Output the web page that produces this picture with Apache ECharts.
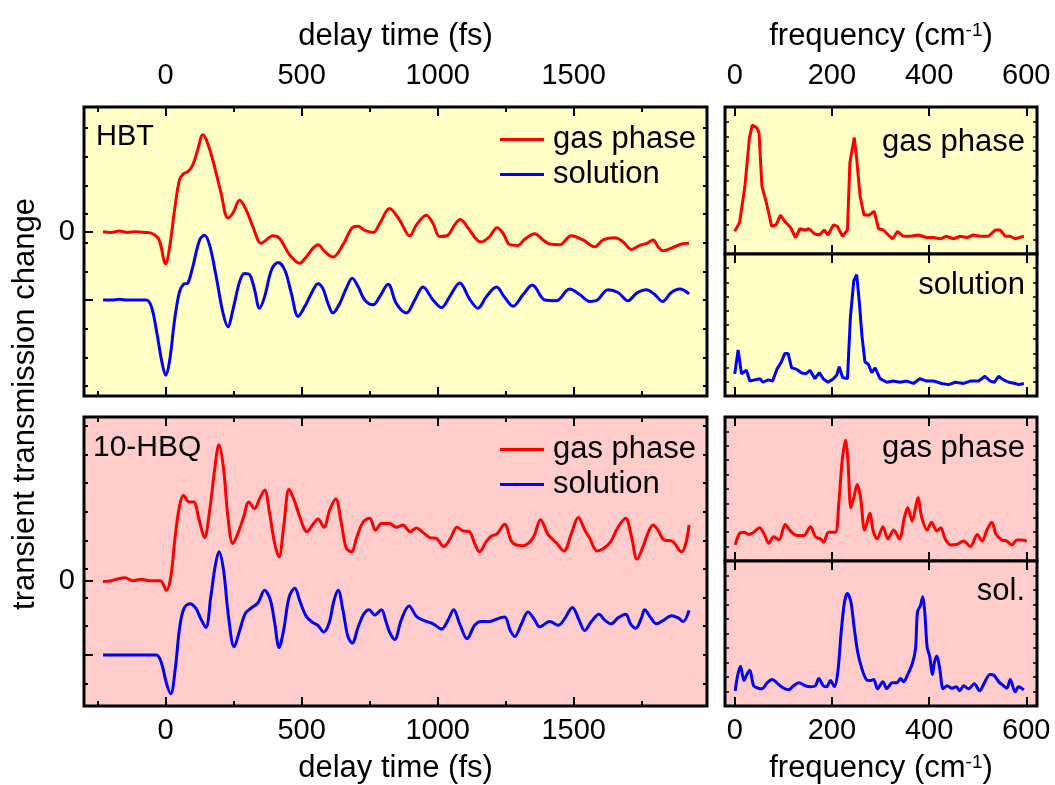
<!DOCTYPE html>
<html>
<head>
<meta charset="utf-8">
<script src="https://cdn.jsdelivr.net/npm/echarts@6/dist/echarts.min.js"></script>
<style>
  html, body { margin: 0; padding: 0; background: #fff; }
  #chart { width: 1055px; height: 785px; }
</style>
</head>
<body>
<div id="chart"></div>
<script>
// ---- time-domain traces: [delay time (fs), transmission change (arb. u.)]
// the solution traces are drawn with a baseline offset of -1
const hbtGas = [[-230,0],[-200,-0.01],[-170,0.01],[-140,-0.01],[-110,0],[-80,-0.01],[-47,-0.03],[-24,-0.12],[0,-0.47],[15,-0.22],[33,0.32],[51,0.76],[66,0.85],[82,0.88],[100,0.98],[118,1.2],[137,1.42],[155,1.29],[180,0.95],[204,0.56],[229,0.2],[247,0.27],[272,0.46],[296,0.32],[321,0.07],[351,-0.17],[370,-0.12],[394,-0.06],[419,-0.1],[456,-0.34],[493,-0.46],[517,-0.37],[542,-0.24],[560,-0.19],[585,-0.29],[615,-0.37],[652,-0.19],[689,0.07],[707,0.08],[732,0.02],[763,-0.01],[787,0.12],[823,0.34],[860,0.17],[897,-0.06],[922,0.1],[958,0.24],[983,0.12],[1007,-0.07],[1038,-0.05],[1062,0.1],[1083,0.18],[1111,0.06],[1142,-0.11],[1160,-0.15],[1191,-0.07],[1218,0.06],[1240,-0.02],[1265,-0.19],[1295,-0.2],[1320,-0.11],[1357,-0.03],[1387,-0.12],[1412,-0.18],[1449,-0.19],[1491,-0.06],[1534,-0.12],[1577,-0.22],[1608,-0.12],[1651,-0.09],[1682,-0.15],[1712,-0.26],[1743,-0.2],[1768,-0.17],[1792,-0.12],[1810,-0.22],[1829,-0.28],[1866,-0.23],[1896,-0.18],[1924,-0.17]];
const hbtSol = [[-230,-1],[-200,-1.0],[-170,-0.99],[-140,-1.0],[-110,-1.0],[-71,-1.0],[-52,-1.1],[-34,-1.44],[-15,-1.88],[0,-2.1],[15,-1.88],[33,-1.29],[51,-0.88],[66,-0.77],[82,-0.75],[100,-0.51],[125,-0.12],[143,-0.05],[162,-0.2],[186,-0.66],[211,-1.19],[229,-1.39],[247,-1.15],[272,-0.73],[290,-0.61],[309,-0.63],[327,-0.85],[345,-1.12],[364,-0.95],[389,-0.56],[413,-0.45],[438,-0.56],[462,-0.9],[487,-1.24],[511,-1.1],[536,-0.9],[560,-0.76],[578,-0.83],[597,-1.05],[615,-1.19],[640,-1.05],[664,-0.83],[686,-0.68],[707,-0.8],[732,-1.0],[763,-1.07],[787,-0.95],[818,-0.77],[848,-1.05],[885,-1.19],[916,-1.0],[946,-0.81],[983,-1.0],[1014,-1.11],[1044,-0.95],[1081,-0.75],[1118,-0.99],[1148,-1.12],[1179,-0.95],[1216,-0.81],[1246,-0.96],[1277,-1.09],[1314,-0.92],[1348,-0.78],[1394,-1.0],[1436,-1.01],[1485,-0.84],[1522,-0.92],[1559,-1.02],[1583,-1.01],[1626,-0.85],[1663,-0.89],[1700,-1.01],[1731,-0.9],[1767,-0.85],[1798,-0.92],[1826,-1.02],[1859,-0.89],[1890,-0.84],[1924,-0.91]];
const hbqGas = [[-230,-0.01],[-200,0.0],[-180,0.02],[-150,0.04],[-120,0.0],[-90,0.02],[-60,0.0],[-20,0.0],[3,-0.13],[19,0.05],[35,0.59],[51,1.0],[66,1.15],[86,1.06],[103,1.06],[123,0.82],[143,0.58],[162,0.95],[180,1.49],[196,1.83],[213,1.51],[229,0.86],[247,0.5],[266,0.64],[287,0.86],[306,1.06],[327,0.97],[345,1.1],[364,1.22],[382,0.91],[401,0.5],[417,0.32],[434,0.73],[454,1.23],[475,1.06],[493,0.86],[520,0.66],[542,0.76],[560,0.83],[582,0.72],[603,0.95],[625,1.1],[646,0.77],[664,0.44],[683,0.39],[703,0.59],[726,0.79],[750,0.84],[772,0.68],[793,0.77],[823,0.77],[848,0.72],[872,0.75],[899,0.66],[922,0.71],[946,0.65],[971,0.58],[995,0.57],[1022,0.46],[1047,0.57],[1071,0.72],[1093,0.67],[1116,0.66],[1136,0.5],[1154,0.39],[1179,0.53],[1197,0.6],[1218,0.63],[1246,0.76],[1271,0.53],[1289,0.48],[1314,0.47],[1351,0.58],[1378,0.82],[1406,0.62],[1436,0.51],[1464,0.4],[1492,0.64],[1517,0.85],[1541,0.68],[1559,0.57],[1586,0.4],[1608,0.43],[1635,0.52],[1663,0.72],[1691,0.84],[1712,0.6],[1733,0.29],[1755,0.46],[1773,0.64],[1792,0.75],[1810,0.68],[1831,0.55],[1863,0.53],[1896,0.39],[1912,0.5],[1924,0.75]];
const hbqSol = [[-230,-1],[-200,-1.0],[-160,-1.0],[-120,-1.0],[-80,-1.0],[-34,-1.0],[-15,-1.11],[3,-1.38],[19,-1.52],[35,-1.2],[52,-0.62],[68,-0.37],[89,-0.31],[111,-0.37],[129,-0.51],[148,-0.63],[166,-0.22],[182,0.19],[196,0.39],[213,0.14],[231,-0.48],[252,-0.89],[273,-0.66],[293,-0.44],[314,-0.37],[339,-0.3],[364,-0.13],[385,-0.26],[401,-0.57],[417,-0.9],[434,-0.66],[454,-0.22],[475,-0.1],[493,-0.27],[517,-0.48],[544,-0.57],[560,-0.6],[581,-0.69],[601,-0.57],[618,-0.28],[634,-0.13],[652,-0.4],[670,-0.75],[686,-0.84],[707,-0.63],[728,-0.45],[748,-0.39],[769,-0.46],[793,-0.39],[810,-0.55],[823,-0.69],[842,-0.79],[866,-0.53],[895,-0.34],[922,-0.48],[946,-0.53],[983,-0.58],[1014,-0.65],[1038,-0.53],[1059,-0.39],[1081,-0.58],[1108,-0.78],[1136,-0.6],[1160,-0.55],[1191,-0.55],[1222,-0.51],[1246,-0.49],[1267,-0.67],[1283,-0.75],[1308,-0.58],[1332,-0.42],[1357,-0.53],[1375,-0.62],[1412,-0.55],[1443,-0.6],[1467,-0.51],[1495,-0.36],[1520,-0.53],[1540,-0.67],[1565,-0.55],[1593,-0.45],[1614,-0.53],[1638,-0.58],[1663,-0.5],[1691,-0.45],[1709,-0.58],[1728,-0.64],[1749,-0.5],[1761,-0.39],[1782,-0.49],[1804,-0.58],[1831,-0.53],[1859,-0.47],[1884,-0.5],[1902,-0.55],[1924,-0.4]];

// ---- Fourier spectra: [frequency (cm-1), amplitude (arb. u.)]
const hbtGasFT = [[0,0.15],[10,0.22],[21,0.51],[30,0.89],[36,1.0],[45,0.98],[50,0.94],[56,0.51],[65,0.38],[76,0.19],[85,0.2],[94,0.28],[105,0.22],[115,0.18],[125,0.1],[134,0.17],[144,0.16],[153,0.17],[164,0.13],[174,0.12],[184,0.16],[192,0.12],[203,0.2],[211,0.19],[222,0.11],[232,0.16],[237,0.7],[246,0.9],[251,0.73],[258,0.43],[266,0.28],[277,0.28],[287,0.31],[296,0.17],[306,0.16],[316,0.12],[325,0.09],[335,0.15],[347,0.11],[361,0.11],[378,0.12],[395,0.1],[409,0.1],[423,0.09],[435,0.11],[450,0.09],[464,0.11],[478,0.1],[491,0.12],[505,0.11],[522,0.11],[536,0.16],[546,0.16],[557,0.11],[567,0.11],[577,0.09],[595,0.11]];
const hbtSolFT = [[0,0.16],[7,0.36],[14,0.16],[24,0.19],[31,0.1],[41,0.11],[52,0.12],[58,0.09],[69,0.11],[78,0.1],[87,0.2],[96,0.26],[103,0.33],[110,0.33],[117,0.21],[127,0.2],[137,0.17],[146,0.16],[155,0.19],[165,0.12],[174,0.17],[182,0.12],[192,0.09],[203,0.12],[210,0.15],[215,0.22],[222,0.13],[232,0.12],[238,0.63],[245,0.94],[251,0.99],[256,0.78],[262,0.47],[268,0.26],[275,0.24],[282,0.17],[289,0.21],[299,0.12],[313,0.09],[326,0.1],[340,0.09],[354,0.1],[368,0.08],[381,0.12],[395,0.1],[409,0.1],[426,0.08],[440,0.07],[454,0.09],[471,0.08],[485,0.1],[502,0.1],[515,0.14],[526,0.1],[534,0.09],[543,0.14],[553,0.11],[564,0.09],[577,0.08],[584,0.07],[595,0.08]];
const hbqGasFT = [[1,0.045],[10,0.15],[19,0.16],[29,0.14],[39,0.16],[51,0.2],[61,0.14],[70,0.06],[80,0.12],[91,0.09],[104,0.23],[115,0.17],[128,0.13],[142,0.13],[156,0.21],[166,0.12],[176,0.1],[183,0.07],[193,0.16],[207,0.16],[214,0.41],[221,0.8],[228,0.99],[233,0.8],[239,0.38],[245,0.47],[252,0.59],[259,0.47],[267,0.18],[272,0.24],[278,0.33],[285,0.17],[293,0.1],[305,0.21],[315,0.1],[327,0.18],[339,0.1],[349,0.29],[356,0.38],[365,0.26],[372,0.38],[377,0.47],[385,0.29],[396,0.18],[405,0.25],[416,0.17],[424,0.2],[433,0.1],[444,0.045],[457,0.05],[471,0.08],[485,0.03],[499,0.14],[509,0.08],[519,0.18],[529,0.25],[538,0.14],[550,0.09],[560,0.08],[570,0.045],[581,0.09],[591,0.09],[601,0.08]];
const hbqSolFT = [[1,0.05],[6,0.2],[12,0.29],[19,0.15],[25,0.21],[31,0.25],[39,0.1],[49,0.075],[56,0.07],[67,0.13],[77,0.16],[91,0.11],[101,0.075],[111,0.06],[121,0.1],[132,0.13],[145,0.1],[156,0.09],[166,0.1],[173,0.17],[182,0.1],[189,0.09],[197,0.15],[205,0.09],[212,0.23],[219,0.62],[226,0.92],[232,1.0],[239,0.92],[246,0.66],[253,0.43],[262,0.26],[271,0.16],[280,0.15],[286,0.16],[294,0.07],[305,0.14],[313,0.07],[324,0.13],[334,0.13],[341,0.17],[348,0.14],[355,0.2],[365,0.31],[372,0.46],[376,0.82],[382,0.88],[387,0.97],[391,0.82],[396,0.475],[401,0.39],[407,0.21],[411,0.33],[416,0.39],[422,0.26],[429,0.07],[437,0.1],[447,0.075],[456,0.09],[463,0.05],[471,0.1],[481,0.07],[493,0.12],[504,0.05],[514,0.13],[525,0.21],[534,0.2],[543,0.14],[553,0.1],[560,0.075],[567,0.16],[577,0.04],[584,0.09],[595,0.06]];

// ---- axis ticks
const timeTicks = [0, 500, 1000, 1500];
const timeMinorTicks = [-250, 250, 750, 1250, 1750];
const freqTicks = [0, 200, 400, 600];
const baselineTicks = [-1, 0];
const zeroLabel = [0];
const hbtMinorY = [1.52, 1.10, 0.68, 0.26, -0.16, -0.58, -1.00, -1.42, -1.84, -2.26];
const hbqMinorY = [2.09, 1.70, 1.32, 0.93, 0.54, 0.16, -0.23, -0.61, -1.00, -1.39];

const FONT = "'Liberation Sans', Arial, Helvetica, sans-serif";
const FS_TICK = 29;
const FS_TEXT = 31;
const RED = '#FF0000', BLUE = '#0000FF';
const BG_HBT = '#FFFFC6', BG_HBQ = '#FFCCCC';

const gridBox = (left, top, width, height, bg) => ({
  left, top, width, height, show: true, backgroundColor: bg,
  borderColor: '#000', borderWidth: 3, containLabel: false, outerBoundsMode: 'none'
});
const grid = [
  gridBox(84, 107, 623, 289, BG_HBT),   // HBT transient
  gridBox(84, 417, 623, 289, BG_HBQ),   // 10-HBQ transient
  gridBox(725, 107, 312, 147, BG_HBT),  // HBT gas spectrum
  gridBox(725, 254, 312, 142, BG_HBT),  // HBT solution spectrum
  gridBox(725, 417, 312, 144, BG_HBQ),  // 10-HBQ gas spectrum
  gridBox(725, 561, 312, 145, BG_HBQ)   // 10-HBQ solution spectrum
];

const tickLine = { color: '#000', width: 2 };
function axis(base, ticks, len, extra) {
  return Object.assign({
    type: 'value',
    axisLine: { show: false, onZero: false },
    axisTick: { show: true, inside: true, length: len, customValues: ticks, lineStyle: tickLine },
    axisLabel: { show: false },
    splitLine: { show: false },
    minorTick: { show: false },
    silent: true
  }, base, extra || {});
}
const labelStyle = (values, margin) => ({
  show: true, customValues: values, fontSize: FS_TICK, fontFamily: FONT, color: '#000', margin,
  formatter: v => String(v)
});
const nameStyle = {
  fontSize: FS_TEXT, fontFamily: FONT, color: '#000',
  rich: { sup: { fontSize: 19, fontFamily: FONT, color: '#000', verticalAlign: 'top', lineHeight: 19 } }
};

const xAxis = [];
const yAxis = [];
function addX(a) { xAxis.push(a); return xAxis.length - 1; }
function addY(a) { yAxis.push(a); return yAxis.length - 1; }

const T_MIN = -300, T_MAX = 1990;
const F_MIN = -20, F_MAX = 622;

// left panels: time axes
const timeX = [];
[0, 1].forEach(g => {
  const rng = { gridIndex: g, min: T_MIN, max: T_MAX };
  const main = addX(axis(Object.assign({ position: 'bottom' }, rng), timeTicks, 9,
    g === 1 ? { axisLabel: labelStyle(timeTicks, 10), name: 'delay time (fs)', nameLocation: 'middle', nameGap: 47, nameTextStyle: nameStyle } : {}));
  addX(axis(Object.assign({ position: 'top' }, rng), timeTicks, 9,
    g === 0 ? { axisLabel: labelStyle(timeTicks, 17), name: 'delay time (fs)', nameLocation: 'middle', nameGap: 55, nameTextStyle: nameStyle } : {}));
  addX(axis(Object.assign({ position: 'bottom' }, rng), timeMinorTicks, 5));
  addX(axis(Object.assign({ position: 'top' }, rng), timeMinorTicks, 5));
  timeX.push(main);
});

// left panels: value axes (baseline ticks, minor ticks left and right)
const panelY = [[-2.405, 1.826, hbtMinorY], [-1.686, 2.203, hbqMinorY]];
const timeY = [];
panelY.forEach(([mn, mx, minor], g) => {
  const rng = { gridIndex: g, min: mn, max: mx };
  const main = addY(axis(Object.assign({ position: 'left' }, rng), baselineTicks, 9,
    { axisLabel: labelStyle(zeroLabel, 9) }));
  addY(axis(Object.assign({ position: 'left' }, rng), minor, 4));
  addY(axis(Object.assign({ position: 'right' }, rng), minor, 4));
  timeY.push(main);
});

// right panels: frequency axes and amplitude axes
const ftRange = [[-0.032, 1.145], [-0.025, 1.163], [-0.10, 1.20], [-0.098, 1.318]];
const freqX = [], freqY = [];
[2, 3, 4, 5].forEach((g, i) => {
  const rng = { gridIndex: g, min: F_MIN, max: F_MAX };
  const main = addX(axis(Object.assign({ position: 'bottom' }, rng), freqTicks, 9,
    g === 5 ? { axisLabel: labelStyle(freqTicks, 10), name: 'frequency (cm{sup|-1})', nameLocation: 'middle', nameGap: 47, nameTextStyle: nameStyle } : {}));
  addX(axis(Object.assign({ position: 'top' }, rng), freqTicks, 9,
    g === 2 ? { axisLabel: labelStyle(freqTicks, 17), name: 'frequency (cm{sup|-1})', nameLocation: 'middle', nameGap: 55, nameTextStyle: nameStyle } : {}));
  freqX.push(main);
  const y = addY(axis({ gridIndex: g, position: 'left', min: ftRange[i][0], max: ftRange[i][1] }, [], 0,
    { axisTick: { show: false } }));
  // fine ticks along both side frames
  addY(axis({ gridIndex: g, position: 'left', min: 0, max: 10, interval: 1 }, null, 4,
    { axisTick: { show: true, inside: true, length: 4, lineStyle: { color: '#000', width: 1.5 } } }));
  addY(axis({ gridIndex: g, position: 'right', min: 0, max: 10, interval: 1 }, null, 4,
    { axisTick: { show: true, inside: true, length: 4, lineStyle: { color: '#000', width: 1.5 } } }));
  freqY.push(y);
});

function line(name, data, xi, yi, color, smooth) {
  return {
    name, type: 'line', data, xAxisIndex: xi, yAxisIndex: yi,
    showSymbol: false, symbol: 'none', smooth, clip: true, silent: true,
    lineStyle: { color, width: 3 }, itemStyle: { color }
  };
}

const series = [
  line('gas phase', hbtGas, timeX[0], timeY[0], RED, 0.35),
  line('solution', hbtSol, timeX[0], timeY[0], BLUE, 0.35),
  line('gas phase', hbqGas, timeX[1], timeY[1], RED, 0.35),
  line('solution', hbqSol, timeX[1], timeY[1], BLUE, 0.35),
  line('HBT gas spectrum', hbtGasFT, freqX[0], freqY[0], RED, false),
  line('HBT solution spectrum', hbtSolFT, freqX[1], freqY[1], BLUE, false),
  line('10-HBQ gas spectrum', hbqGasFT, freqX[2], freqY[2], RED, 0.3),
  line('10-HBQ solution spectrum', hbqSolFT, freqX[3], freqY[3], BLUE, 0.3)
];

const legendBox = top => ({
  data: ['gas phase', 'solution'], orient: 'vertical', left: 500, top,
  icon: 'rect', itemWidth: 44, itemHeight: 3, itemGap: 4, padding: 0,
  selectedMode: false,
  textStyle: { fontSize: FS_TEXT, fontFamily: FONT, color: '#000', lineHeight: 30, padding: [0, 0, 0, 4] }
});

const txt = (text, x, y, align, size) => ({
  type: 'text', x, y, silent: true,
  style: { text, fontSize: size || FS_TEXT, fontFamily: FONT, fill: '#000', textAlign: align, textVerticalAlign: 'middle' }
});

const option = {
  animation: false,
  backgroundColor: '#fff',
  textStyle: { fontFamily: FONT },
  grid, xAxis, yAxis, series,
  legend: [legendBox(124), legendBox(434)],
  graphic: [
    txt('HBT', 96, 137, 'left', 29),
    txt('10-HBQ', 93, 448, 'left', 30),
    txt('gas phase', 1025, 142, 'right'),
    txt('solution', 1025, 285, 'right'),
    txt('gas phase', 1025, 448, 'right'),
    txt('sol.', 1025, 591, 'right'),
    Object.assign(txt('transient transmission change', 0, 0, 'center'), { x: 25, y: 404, rotation: Math.PI / 2 })
  ]
};

const chart = echarts.init(document.getElementById('chart'), null, { renderer: 'canvas' });
chart.setOption(option);
</script>
</body>
</html>
